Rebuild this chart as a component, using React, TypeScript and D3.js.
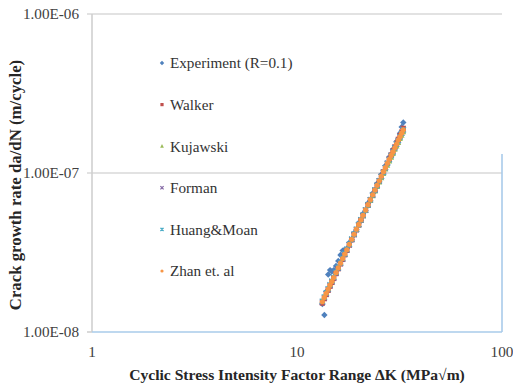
import React from 'react'
import * as d3 from 'd3'

// ΔK (MPa√m), shared by every series
const deltaK = [
  13.3, 13.6, 13.9, 14.2, 14.5, 14.8, 15.1, 15.5, 15.9, 16.3, 16.7, 17.1, 17.5, 18.0, 18.5, 19.0, 19.5, 20.0, 20.5,
  21.0, 21.6, 22.2, 22.8, 23.4, 24.0, 24.6, 25.2, 25.8, 26.4, 27.0, 27.6, 28.2, 28.8, 29.4, 30.0, 30.6, 31.2, 31.8,
  32.4, 33.0,
]

// da/dN (m/cycle)
const experiment = [
  1.5e-8, 1.28e-8, 1.8e-8, 2.3e-8, 2.45e-8, 2.4e-8, 2.45e-8, 2.6e-8, 2.8e-8, 3.05e-8, 3.25e-8, 3.3e-8, 3.35e-8,
  3.65e-8, 3.8e-8, 4.2e-8, 4.4e-8, 4.85e-8, 5.05e-8, 5.55e-8, 5.8e-8, 6.45e-8, 6.7e-8, 7.45e-8, 7.7e-8, 8.6e-8,
  8.8e-8, 9.8e-8, 1.0e-7, 1.11e-7, 1.13e-7, 1.26e-7, 1.27e-7, 1.41e-7, 1.43e-7, 1.58e-7, 1.6e-7, 1.78e-7, 1.95e-7,
  2.08e-7,
]
const walker = [
  1.52e-8, 1.62e-8, 1.72e-8, 1.83e-8, 1.94e-8, 2.05e-8, 2.17e-8, 2.33e-8, 2.5e-8, 2.68e-8, 2.86e-8, 3.06e-8, 3.26e-8,
  3.52e-8, 3.8e-8, 4.09e-8, 4.39e-8, 4.71e-8, 5.04e-8, 5.39e-8, 5.83e-8, 6.29e-8, 6.77e-8, 7.28e-8, 7.81e-8, 8.37e-8,
  8.95e-8, 9.56e-8, 1.02e-7, 1.08e-7, 1.15e-7, 1.22e-7, 1.3e-7, 1.38e-7, 1.46e-7, 1.54e-7, 1.63e-7, 1.72e-7, 1.81e-7,
  1.91e-7,
]
const kujawski = [
  1.58e-8, 1.68e-8, 1.78e-8, 1.89e-8, 2.0e-8, 2.11e-8, 2.23e-8, 2.39e-8, 2.56e-8, 2.74e-8, 2.92e-8, 3.11e-8, 3.31e-8,
  3.57e-8, 3.84e-8, 4.12e-8, 4.42e-8, 4.73e-8, 5.05e-8, 5.39e-8, 5.81e-8, 6.26e-8, 6.72e-8, 7.2e-8, 7.71e-8, 8.24e-8,
  8.79e-8, 9.36e-8, 9.96e-8, 1.06e-7, 1.12e-7, 1.19e-7, 1.26e-7, 1.33e-7, 1.41e-7, 1.48e-7, 1.56e-7, 1.65e-7, 1.73e-7,
  1.82e-7,
]
const forman = [
  1.54e-8, 1.64e-8, 1.74e-8, 1.85e-8, 1.96e-8, 2.07e-8, 2.19e-8, 2.35e-8, 2.52e-8, 2.7e-8, 2.88e-8, 3.08e-8, 3.28e-8,
  3.54e-8, 3.82e-8, 4.11e-8, 4.41e-8, 4.73e-8, 5.06e-8, 5.41e-8, 5.84e-8, 6.3e-8, 6.78e-8, 7.28e-8, 7.8e-8, 8.35e-8,
  8.92e-8, 9.52e-8, 1.01e-7, 1.08e-7, 1.15e-7, 1.22e-7, 1.29e-7, 1.36e-7, 1.44e-7, 1.52e-7, 1.6e-7, 1.69e-7, 1.78e-7,
  1.87e-7,
]
const huangMoan = [
  1.56e-8, 1.66e-8, 1.76e-8, 1.87e-8, 1.98e-8, 2.09e-8, 2.21e-8, 2.37e-8, 2.54e-8, 2.72e-8, 2.9e-8, 3.1e-8, 3.3e-8,
  3.56e-8, 3.84e-8, 4.13e-8, 4.43e-8, 4.75e-8, 5.08e-8, 5.42e-8, 5.86e-8, 6.31e-8, 6.79e-8, 7.29e-8, 7.81e-8, 8.36e-8,
  8.93e-8, 9.52e-8, 1.01e-7, 1.08e-7, 1.15e-7, 1.21e-7, 1.29e-7, 1.36e-7, 1.44e-7, 1.52e-7, 1.6e-7, 1.69e-7, 1.78e-7,
  1.87e-7,
]
const zhan = [
  1.55e-8, 1.65e-8, 1.75e-8, 1.86e-8, 1.97e-8, 2.08e-8, 2.2e-8, 2.36e-8, 2.53e-8, 2.71e-8, 2.9e-8, 3.09e-8, 3.29e-8,
  3.56e-8, 3.83e-8, 4.12e-8, 4.43e-8, 4.75e-8, 5.08e-8, 5.42e-8, 5.86e-8, 6.32e-8, 6.8e-8, 7.3e-8, 7.82e-8, 8.37e-8,
  8.94e-8, 9.54e-8, 1.02e-7, 1.08e-7, 1.15e-7, 1.22e-7, 1.29e-7, 1.36e-7, 1.44e-7, 1.52e-7, 1.61e-7, 1.69e-7, 1.78e-7,
  1.87e-7,
]

const seriesNames = ['Experiment (R=0.1)', 'Walker', 'Kujawski', 'Forman', 'Huang&Moan', 'Zhan et. al']
const seriesValues = [experiment, walker, kujawski, forman, huangMoan, zhan]
const seriesColors = ['#4F81BD', '#C0504D', '#9BBB59', '#8064A2', '#4BACC6', '#F79646']
const seriesMarkers = ['diamond', 'square', 'triangle', 'x', 'star', 'circle']

const xTicks = [1, 10, 100]
const xTickLabels = ['1', '10', '100']
const yTicks = [1e-8, 1e-7, 1e-6]
const yTickLabels = ['1.00E-08', '1.00E-07', '1.00E-06']

const W = 513
const H = 386
const margin = { left: 92, right: 11, top: 14, bottom: 54 }
const FONT = 'Liberation Serif'

const Marker = ({ type, x, y, color, s }: { type: string; x: number; y: number; color: string; s: number }) => {
  const h = s / 2
  switch (type) {
    case 'diamond':
      return <path d={`M${x},${y - h - 0.6}L${x + h + 0.6},${y}L${x},${y + h + 0.6}L${x - h - 0.6},${y}Z`} fill={color} />
    case 'square':
      return <rect x={x - h} y={y - h} width={s} height={s} fill={color} />
    case 'triangle':
      return <path d={`M${x},${y - h - 0.5}L${x + h + 0.3},${y + h}L${x - h - 0.3},${y + h}Z`} fill={color} />
    case 'x':
      return (
        <path d={`M${x - h},${y - h}L${x + h},${y + h}M${x + h},${y - h}L${x - h},${y + h}`} stroke={color} strokeWidth={1.2} />
      )
    case 'star':
      return (
        <path
          d={`M${x - h},${y - h}L${x + h},${y + h}M${x + h},${y - h}L${x - h},${y + h}M${x},${y - h}L${x},${y + h}`}
          stroke={color}
          strokeWidth={1.2}
        />
      )
    default:
      return <circle cx={x} cy={y} r={h} fill={color} />
  }
}

export default function App() {
  const x = d3.scaleLog().domain([1, 100]).range([margin.left, W - margin.right])
  const y = d3.scaleLog().domain([1e-8, 1e-6]).range([H - margin.bottom, margin.top])
  const x0 = margin.left
  const x1 = W - margin.right
  const yBottom = H - margin.bottom

  const legendX = 162
  const legendY0 = 63
  const legendStep = 41.6

  return (
    <svg width={W} height={H} style={{ position: 'absolute', left: 0, top: 0, background: '#fff' }}>
      {/* gridlines + y ticks */}
      {yTicks.map((t, i) => (
        <g key={t}>
          {i > 0 && <line x1={x0 - 5} x2={x1} y1={y(t)} y2={y(t)} stroke="#D9D9D9" strokeWidth={1.6} />}
          <text x={79} y={y(t)} dy="0.35em" textAnchor="end" fontFamily={FONT} fontSize={15.2} fill="#404040">
            {yTickLabels[i]}
          </text>
        </g>
      ))}
      {/* left axis */}
      <line x1={x0} x2={x0} y1={margin.top} y2={yBottom} stroke="#D0D0D0" strokeWidth={1.6} />
      <line x1={x0 - 5} x2={x0} y1={yBottom} y2={yBottom} stroke="#D0D0D0" strokeWidth={1.6} />
      {/* bottom axis and right edge */}
      <line x1={x0} x2={x1} y1={yBottom} y2={yBottom} stroke="#A9CBEA" strokeWidth={1.6} />
      <line x1={x1} x2={x1} y1={margin.top + 140} y2={yBottom} stroke="#A9CBEA" strokeWidth={1.6} />
      {xTicks.map((t, i) => (
        <text key={t} x={x(t)} y={352} dy="0.35em" textAnchor="middle" fontFamily={FONT} fontSize={15.2} fill="#404040">
          {xTickLabels[i]}
        </text>
      ))}

      {/* data */}
      {seriesValues.map((vals, si) => (
        <g key={seriesNames[si]}>
          {vals.map((v, i) => (
            <Marker key={i} type={seriesMarkers[si]} x={x(deltaK[i])} y={y(v)} color={seriesColors[si]} s={5.2} />
          ))}
        </g>
      ))}

      {/* legend */}
      {seriesNames.map((name, i) => (
        <g key={name}>
          <Marker type={seriesMarkers[i]} x={legendX} y={legendY0 + i * legendStep} color={seriesColors[i]} s={3.2} />
          <text x={legendX + 8} y={legendY0 + i * legendStep} dy="0.35em" fontFamily={FONT} fontSize={15.2} fill="#333">
            {name}
          </text>
        </g>
      ))}

      {/* axis titles */}
      <text x={297} y={375} dy="0.35em" textAnchor="middle" fontFamily={FONT} fontSize={15.6} fontWeight="bold" fill="#262626">
        Cyclic Stress Intensity Factor Range ΔK (MPa√m)
      </text>
      <text
        transform={`translate(15, 185) rotate(-90)`}
        dy="0.35em"
        textAnchor="middle"
        fontFamily={FONT}
        fontSize={16.8}
        fontWeight="bold"
        fill="#262626"
      >
        Crack growth rate da/dN (m/cycle)
      </text>
    </svg>
  )
}
